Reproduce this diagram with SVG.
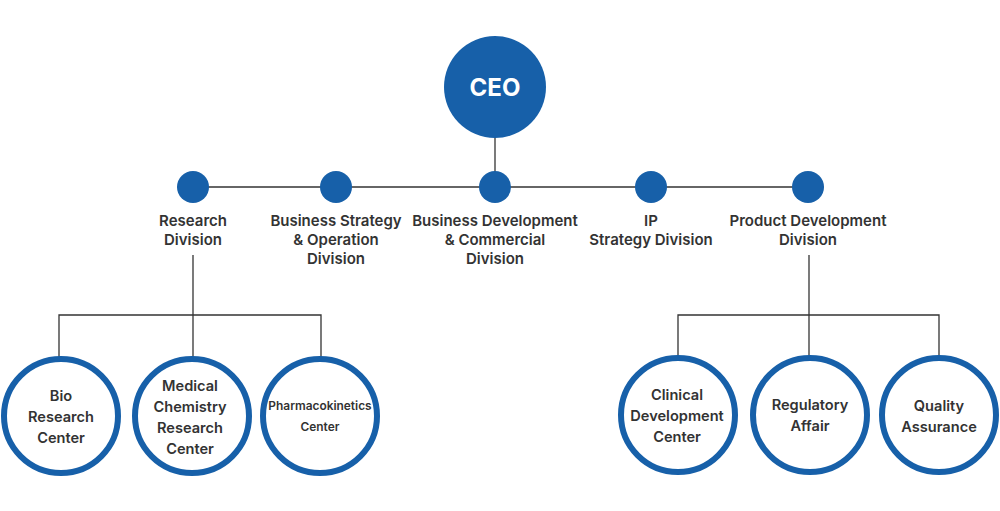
<svg xmlns="http://www.w3.org/2000/svg" width="1000" height="511" viewBox="0 0 1000 511">
<style>
.ln{stroke:#333;stroke-width:1.3;fill:none}
.dot{fill:#1760a9}
.ring{fill:#fff;stroke:#1760a9;stroke-width:6}
.lbl{font-family:Inter,"Noto Sans","Liberation Sans",sans-serif;font-weight:600;font-size:15px;fill:#333;text-anchor:middle}
.cl{font-family:Inter,"Noto Sans","Liberation Sans",sans-serif;font-weight:600;font-size:14.6px;fill:#333;text-anchor:middle}
.sm{font-size:11.9px}
.ceo{font-family:Inter,"Noto Sans","Liberation Sans",sans-serif;font-weight:700;font-size:24px;fill:#fff;text-anchor:middle}
</style>
<rect width="1000" height="511" fill="#fff"/>
<g id="connectors">
<line class="ln" x1="495" y1="130" x2="495" y2="187"/>
<line class="ln" x1="193" y1="187" x2="808" y2="187"/>
<polyline class="ln" points="193,255 193,358"/>
<polyline class="ln" points="59,358 59,315 321,315 321,358"/>
<polyline class="ln" points="809,255 809,356"/>
<polyline class="ln" points="678,356 678,315 939,315 939,356"/>
</g>
<g id="ceo">
<circle class="dot" cx="495" cy="87" r="51"/>
<text class="ceo" x="495" y="95.5">CEO</text>
</g>
<g id="research-division">
<circle class="dot" cx="193" cy="187" r="16"/>
<text class="lbl" x="193" y="226">Research</text>
<text class="lbl" x="193" y="245">Division</text>
</g>
<g id="business-strategy">
<circle class="dot" cx="336" cy="187" r="16"/>
<text class="lbl" x="336" y="226">Business Strategy</text>
<text class="lbl" x="336" y="245">&amp; Operation</text>
<text class="lbl" x="336" y="264">Division</text>
</g>
<g id="business-development">
<circle class="dot" cx="495" cy="187" r="16"/>
<text class="lbl" x="495" y="226">Business Development</text>
<text class="lbl" x="495" y="245">&amp; Commercial</text>
<text class="lbl" x="495" y="264">Division</text>
</g>
<g id="ip-strategy">
<circle class="dot" cx="651" cy="187" r="16"/>
<text class="lbl" x="651" y="226">IP</text>
<text class="lbl" x="651" y="245">Strategy Division</text>
</g>
<g id="product-development">
<circle class="dot" cx="808" cy="187" r="16"/>
<text class="lbl" x="808" y="226">Product Development</text>
<text class="lbl" x="808" y="245">Division</text>
</g>
<g id="bio-research">
<circle class="ring" cx="61" cy="416" r="57"/>
<text class="cl" x="61" y="401">Bio</text>
<text class="cl" x="61" y="422">Research</text>
<text class="cl" x="61" y="443">Center</text>
</g>
<g id="medical-chemistry">
<circle class="ring" cx="192" cy="416" r="57"/>
<text class="cl" x="190" y="391">Medical</text>
<text class="cl" x="190" y="412">Chemistry</text>
<text class="cl" x="190" y="433">Research</text>
<text class="cl" x="190" y="454">Center</text>
</g>
<g id="pharmacokinetics">
<circle class="ring" cx="320" cy="416" r="57"/>
<text class="cl sm" x="320" y="410">Pharmacokinetics</text>
<text class="cl sm" x="320" y="431">Center</text>
</g>
<g id="clinical-development">
<circle class="ring" cx="678" cy="415" r="57"/>
<text class="cl" x="677" y="400">Clinical</text>
<text class="cl" x="677" y="421">Development</text>
<text class="cl" x="677" y="442">Center</text>
</g>
<g id="regulatory-affair">
<circle class="ring" cx="810" cy="415" r="57"/>
<text class="cl" x="810" y="410">Regulatory</text>
<text class="cl" x="810" y="431">Affair</text>
</g>
<g id="quality-assurance">
<circle class="ring" cx="939" cy="415" r="57"/>
<text class="cl" x="939" y="411">Quality</text>
<text class="cl" x="939" y="432">Assurance</text>
</g>
</svg>
